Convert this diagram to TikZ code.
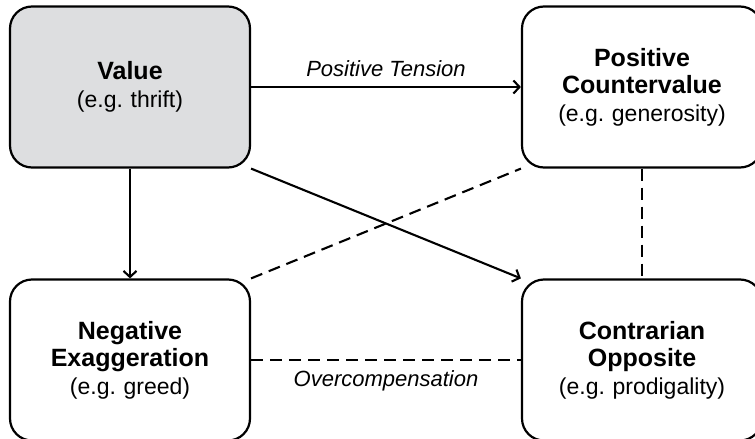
\documentclass[tikz,border=0pt]{standalone}
\usepackage{fontspec}
\setmainfont{Liberation Sans}
\frenchspacing
\usetikzlibrary{shapes,arrows,arrows.meta}
\definecolor{palegray}{RGB}{221,222,224}
\newcommand{\headline}[1]{{\fontsize{25}{27.5}\selectfont\bfseries #1}}
\tikzstyle{block} = [rectangle, draw, line width=2.2pt, text width=232pt,
    text centered, rounded corners=22pt, minimum width=240pt,
    minimum height=161pt, font=\fontsize{23}{27.5}\selectfont]
\tikzstyle{arrow} = [draw, line width=2.1pt, -{Straight Barb[length=6pt,width=13pt]}]
\tikzstyle{link} = [draw, line width=2.1pt, dash pattern=on 12pt off 7pt]
\tikzstyle{tag} = [font=\fontsize{22}{26}\selectfont\itshape]

\begin{document}
\begin{tikzpicture}[x=1pt, y=-1pt]
    \useasboundingbox (0,0) rectangle (755,439);
    \clip (0,0) rectangle (755,439);
    \node[block, fill=palegray] (value) at (130,87) {\headline{Value}\\(e.g. thrift)};
    \node[block] (posc) at (642,87) {\headline{Positive}\\\headline{Countervalue}\\(e.g. generosity)};
    \node[block] (nega) at (130,360) {\headline{Negative}\\\headline{Exaggeration}\\(e.g. greed)};
    \node[block] (contr) at (642,360) {\headline{Contrarian}\\\headline{Opposite}\\(e.g. prodigality)};
    \path[arrow] (value.east) -- node[tag, above=6pt] {Positive Tension} (posc.west);
    \path[arrow] (value.south) -- (nega.north);
    \path[arrow] (value.south east) -- (contr.north west);
    \path[link] (nega.north east) -- (posc.south west);
    \path[link] (posc.south) -- (contr.north);
    \path[link] (nega.east) -- node[tag, below=6pt] {Overcompensation} (contr.west);
  \end{tikzpicture}
\end{document}
